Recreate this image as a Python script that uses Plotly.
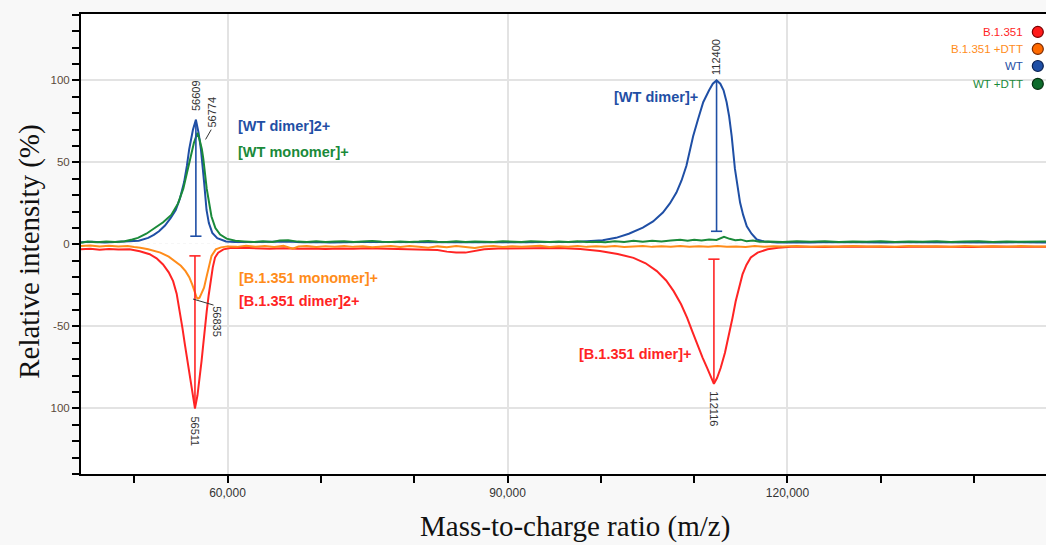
import plotly.graph_objects as go

# ---------------- data ----------------
series_names = ["B.1.351", "B.1.351 +DTT", "WT", "WT +DTT"]

b1351_points = [(44300,-3.0),(45300,-2.6),(46300,-3.3),(47300,-2.8),(48300,-3.1),(49500,-3.0),(50600,-4.2),(51660,-6.0),(52400,-8.5),(53090,-12.2),(53700,-17.0),(54170,-22.4),(54550,-30.0),(54890,-40.8),(55170,-51.0),(55430,-61.0),(55700,-71.0),(55970,-81.5),(56250,-92.0),(56511,-100.0),(56780,-92.0),(57040,-81.5),(57220,-71.0),(57400,-61.0),(57580,-50.0),(57770,-40.8),(57980,-31.0),(58200,-22.4),(58420,-14.0),(58660,-8.0),(59000,-5.0),(59560,-3.0),(60300,-2.2),(61500,-2.0),(63000,-2.3),(64500,-2.6),(66000,-2.3),(67500,-2.7),(69000,-2.5),(70500,-2.8),(72000,-2.5),(73500,-2.7),(75000,-2.4),(76500,-2.6),(78000,-2.5),(79500,-2.8),(81000,-2.9),(82500,-3.4),(83500,-4.4),(84500,-5.0),(85500,-5.0),(86500,-4.2),(87500,-3.0),(89000,-2.5),(90500,-2.4),(92000,-2.6),(93500,-2.3),(95600,-2.2),(97800,-2.8),(99900,-4.0),(101800,-5.8),(103500,-8.2),(104800,-11.5),(106000,-16.3),(107000,-22.0),(107800,-28.5),(108600,-36.5),(109250,-44.8),(109800,-53.0),(110330,-61.0),(110900,-69.0),(111400,-75.4),(111800,-81.0),(112116,-85.0),(112450,-81.5),(112840,-75.4),(113300,-66.0),(113740,-55.0),(114100,-45.0),(114450,-34.7),(114800,-26.0),(115180,-18.3),(115600,-12.5),(116070,-8.0),(116800,-5.0),(117870,-3.0),(119000,-2.0),(120380,-1.5),(122000,-1.4),(124000,-1.6),(126000,-1.3),(128000,-1.5),(130000,-1.4),(132000,-1.6),(134000,-1.3),(136000,-1.5),(138000,-1.4),(140000,-1.6),(142000,-1.3),(144000,-1.5),(146000,-1.4),(147700,-1.5)]

b1351_dtt_points = [(44300,-1.0),(45300,-0.6),(46300,-1.2),(47300,-0.8),(48300,-1.3),(49300,-1.0),(50000,-1.6),(50650,-2.0),(51500,-3.0),(52000,-3.6),(52810,-5.0),(53700,-7.5),(54360,-10.2),(55000,-13.0),(55500,-16.3),(55900,-20.0),(56225,-24.5),(56500,-29.0),(56700,-32.5),(56835,-33.0),(57000,-32.5),(57200,-30.0),(57485,-26.4),(57700,-21.0),(57915,-16.3),(58100,-11.0),(58285,-7.0),(58745,-3.0),(59300,-1.8),(60000,-1.2),(61000,-1.5),(62000,-0.8),(63000,-1.4),(64000,-1.0),(65000,-1.6),(66000,-0.9),(67000,-2.6),(67600,-1.3),(68500,-1.0),(69500,-1.6),(70500,-1.1),(71500,-1.4),(72500,-0.9),(73500,-1.5),(74500,-1.1),(75500,-1.8),(76500,-1.2),(77500,-0.9),(78500,-1.6),(79500,-1.0),(80500,-1.4),(81500,-2.0),(82500,-1.2),(83500,-1.7),(84500,-1.0),(85500,-1.5),(86500,-2.2),(87500,-1.3),(88500,-1.0),(89500,-1.6),(90500,-1.1),(91500,-1.5),(92500,-1.2),(93500,-0.8),(94500,-1.6),(95500,-1.1),(96500,-1.4),(97500,-0.9),(98500,-1.5),(99500,-1.1),(100500,-1.4),(101500,-1.0),(102500,-1.6),(103500,-1.2),(104500,-0.9),(105500,-1.5),(106500,-1.1),(107500,-1.4),(108500,-1.0),(109500,-1.5),(110500,-1.1),(111500,-1.4),(112500,-1.0),(113500,-1.5),(114500,-1.2),(115500,-1.6),(116500,-1.0),(117500,-1.4),(118500,-1.1),(119500,-1.3),(121000,-1.0),(122500,-1.4),(124000,-1.1),(125500,-1.5),(127000,-1.0),(128500,-1.3),(130000,-1.1),(131500,-1.4),(133000,-1.0),(134500,-1.3),(136000,-1.1),(137500,-1.4),(139000,-1.0),(140500,-1.3),(142000,-1.1),(143500,-1.4),(145000,-1.0),(146500,-1.3),(147700,-1.2)]

wt_points = [(44300,1.3),(45500,1.6),(46800,1.2),(48000,1.5),(49200,1.9),(50490,2.3),(51500,4.0),(52100,5.8),(52660,8.0),(53300,11.5),(53900,16.0),(54450,21.0),(54900,28.0),(55350,38.0),(55650,48.0),(55890,58.0),(56300,70.0),(56609,76.0),(56900,68.0),(57150,58.0),(57490,38.0),(57750,21.0),(58000,13.0),(58370,7.0),(58900,3.8),(59840,1.8),(60800,1.4),(62000,1.5),(63500,1.2),(65000,1.4),(66500,1.7),(68000,1.3),(69500,1.5),(71000,1.2),(72500,1.4),(74000,1.3),(75500,1.6),(77000,1.4),(78500,1.3),(80000,1.5),(81500,1.2),(83000,1.4),(84500,1.3),(86000,1.5),(87500,1.4),(89000,1.2),(90500,1.5),(92000,1.3),(93500,1.4),(95000,1.3),(96500,1.5),(97700,1.6),(98770,1.8),(100200,2.5),(101630,4.0),(103000,6.5),(104500,10.2),(105600,14.0),(106650,19.4),(107400,25.0),(108100,31.6),(108650,39.0),(109170,48.0),(109550,57.0),(109890,66.0),(110400,76.0),(110970,86.7),(111600,94.0),(112000,98.0),(112400,100.0),(112800,98.0),(113150,94.0),(113480,86.7),(113750,78.0),(114020,66.0),(114370,46.0),(114650,35.0),(114920,25.5),(115250,18.0),(115640,11.0),(116150,6.5),(116710,3.0),(117500,1.8),(118870,1.2),(120500,1.3),(122500,1.1),(124500,1.4),(126500,1.2),(128500,1.3),(130500,1.1),(132500,1.3),(134500,1.2),(136500,1.4),(138500,1.2),(140500,1.3),(142500,1.1),(144500,1.3),(146500,1.2),(147700,1.2)]

wt_dtt_points = [(44300,1.0),(45000,1.8),(46000,1.3),(47000,1.7),(48000,1.4),(48980,1.9),(49800,3.0),(50400,4.0),(51300,6.5),(52210,10.0),(53100,13.5),(53970,18.0),(54700,25.0),(55260,34.0),(55700,45.0),(55980,52.0),(56400,62.0),(56774,68.0),(57000,64.0),(57250,58.0),(57410,52.0),(57770,34.0),(58000,25.0),(58280,17.0),(58700,10.0),(59210,6.0),(59900,3.5),(60830,2.2),(61800,1.8),(62800,1.4),(63800,1.9),(64800,1.5),(65600,2.4),(66500,2.6),(67500,1.7),(68500,1.5),(69500,1.9),(70500,1.4),(71500,1.7),(72500,2.0),(73500,1.5),(74500,1.6),(75500,2.1),(76500,1.6),(77500,1.4),(78500,1.8),(79500,1.5),(80500,1.7),(81500,2.1),(82500,1.6),(83500,1.4),(84500,1.9),(85500,1.5),(86500,1.8),(87500,1.6),(88500,1.4),(89500,1.9),(90500,1.7),(91500,1.5),(92500,2.0),(93500,1.6),(94500,1.4),(95500,1.8),(96500,1.5),(97500,1.9),(98500,1.4),(99500,1.6),(100500,1.3),(101500,1.9),(102500,1.4),(103500,2.3),(104500,1.6),(105500,2.2),(106500,1.8),(107500,2.4),(108500,2.9),(109300,2.2),(110000,2.8),(110800,2.4),(111600,3.0),(112400,2.7),(113200,4.6),(113800,3.4),(114400,2.6),(115000,2.9),(115600,1.9),(116300,2.4),(117000,1.6),(118000,1.8),(119500,1.5),(121000,1.9),(122500,1.6),(124000,2.0),(125500,1.5),(127000,1.8),(128500,1.6),(130000,1.9),(131500,1.5),(133000,1.8),(134500,1.6),(136000,1.9),(137500,1.5),(139000,1.7),(140500,1.9),(142000,1.5),(143500,1.8),(145000,1.6),(146500,1.9),(147700,1.7)]

# peak markers (vertical bars from apex to base)
wt_bar_x = [56609, 112400]
wt_bar_top = [76, 100]
wt_bar_base = [5, 8]
b_bar_x = [56511, 112116]
b_bar_top = [-100, -85]
b_bar_base = [-7, -9]

# peak mass labels: (text, x, y, angle)
peak_labels = [("56609", 56609, 91, -90), ("56774", 58330, 81, -90), ("112400", 112400, 114, -90),
               ("56511", 56511, -114, 90), ("56835", 58800, -47, 90), ("112116", 112116, -100.5, 90)]

# species labels: (text, x, y, anchor, series index)
species_labels = [("[WT dimer]2+", 60900, 72, "left", 2), ("[WT monomer]+", 60900, 56.5, "left", 3),
                  ("[WT dimer]+", 110600, 90, "right", 2),
                  ("[B.1.351 monomer]+", 61000, -20.7, "left", 1), ("[B.1.351 dimer]2+", 61000, -34.7, "left", 0),
                  ("[B.1.351 dimer]+", 109850, -67, "right", 0)]

x_tick_vals = [60000, 90000, 120000]
x_tick_text = ["60,000", "90,000", "120,000"]
y_tick_vals = [100, 50, 0, -50, -100]
y_tick_text = ["100", "50", "0", "-50", "100"]

x_title = "Mass-to-charge ratio (m/z)"
y_title = "Relative intensity (%)"

# ---------------- style ----------------
line_colors = ["#ff2424", "#ff8c1a", "#1f4fa5", "#1a8a3a"]
legend_fill = ["#ff1a1a", "#ff6a00", "#1f4fa5", "#0d6b2b"]
legend_edge = ["#7a0000", "#7a2a00", "#0a2050", "#063010"]
legend_y = [0.961, 0.924, 0.887, 0.848]
CAP = 600
SANS = "Liberation Sans, Arial"
SERIF = "Liberation Serif, Times New Roman"

fig = go.Figure()
all_points = [b1351_points, b1351_dtt_points, wt_points, wt_dtt_points]
for i in [0, 1, 2, 3]:
    pts = all_points[i]
    fig.add_trace(go.Scatter(x=[p[0] for p in pts], y=[p[1] for p in pts], mode="lines",
                             line=dict(color=line_colors[i], width=2), name=series_names[i],
                             showlegend=False, hoverinfo="skip"))

def bar_trace(xs, tops, bases, color):
    bx, by = [], []
    for x, t, b in zip(xs, tops, bases):
        bx += [x, x, None, x - CAP, x + CAP, None]
        by += [t, b, None, b, b, None]
    return go.Scatter(x=bx, y=by, mode="lines", line=dict(color=color, width=1.6),
                      showlegend=False, hoverinfo="skip")

fig.add_trace(bar_trace(wt_bar_x, wt_bar_top, wt_bar_base, line_colors[2]))
fig.add_trace(bar_trace(b_bar_x, b_bar_top, b_bar_base, line_colors[0]))

# legend symbols on an overlay axis in paper-like [0,1] units
fig.add_trace(go.Scatter(x=[0.9915] * 4, y=legend_y, xaxis="x2", yaxis="y2", mode="markers",
                         marker=dict(size=11, color=legend_fill, line=dict(color=legend_edge, width=1.2)),
                         showlegend=False, hoverinfo="skip", cliponaxis=False))

annotations = []
for text, x, y, ang in peak_labels:
    annotations.append(dict(x=x, y=y, xref="x", yref="y", text=text, textangle=ang, showarrow=False,
                            font=dict(family=SANS, size=11, color="#333333")))
for text, x, y, anchor, si in species_labels:
    annotations.append(dict(x=x, y=y, xref="x", yref="y", text="<b>" + text + "</b>", xanchor=anchor,
                            yanchor="middle", showarrow=False,
                            font=dict(family=SANS, size=14.5, color=line_colors[si])))
for i in range(4):
    annotations.append(dict(x=0.978, y=legend_y[i], xref="paper", yref="paper", text=series_names[i],
                            xanchor="right", yanchor="middle", showarrow=False,
                            font=dict(family=SANS, size=11.5, color=line_colors[i])))
annotations.append(dict(x=0.512, y=0, xref="paper", yref="paper", yshift=-52, text=x_title,
                        xanchor="center", yanchor="middle", showarrow=False,
                        font=dict(family=SERIF, size=29, color="#111111")))
annotations.append(dict(x=0, y=0.483, xref="paper", yref="paper", xshift=-51, text=y_title,
                        textangle=-90, xanchor="center", yanchor="middle", showarrow=False,
                        font=dict(family=SERIF, size=29, color="#111111")))

shapes = [
    dict(type="line", xref="paper", yref="y", x0=0, x1=1, y0=0, y1=0, layer="between",
         line=dict(color="#9a9a9a", width=1, dash="dot")),
    dict(type="line", xref="x", yref="y", x0=57650, y0=64, x1=58250, y1=70,
         line=dict(color="#333333", width=1)),
    dict(type="line", xref="x", yref="y", x0=56300, y0=-33.3, x1=58500, y1=-37,
         line=dict(color="#333333", width=1)),
]

fig.update_layout(
    width=1046, height=545,
    margin=dict(l=81, r=0, t=14, b=71, autoexpand=False),
    paper_bgcolor="#f8f8f8", plot_bgcolor="#ffffff",
    showlegend=False,
    annotations=annotations, shapes=shapes,
    xaxis=dict(range=[44300, 147700], tickvals=x_tick_vals, ticktext=x_tick_text, automargin=False,
               showgrid=True, gridcolor="#e3e3e3", gridwidth=1.5, zeroline=False,
               showline=True, linecolor="black", linewidth=2, mirror=True,
               ticks="outside", ticklen=7, tickwidth=2, tickcolor="black",
               minor=dict(tick0=0, dtick=10000, ticks="outside", ticklen=7, tickwidth=2,
                          tickcolor="black", showgrid=False),
               tickfont=dict(family=SANS, size=12, color="#333333")),
    yaxis=dict(range=[-140, 140.5], tickvals=y_tick_vals, ticktext=y_tick_text, automargin=False,
               showgrid=True, gridcolor="#e3e3e3", gridwidth=1.5,
               zeroline=True, zerolinecolor="#ffffff", zerolinewidth=1,
               showline=True, linecolor="black", linewidth=2,
               ticks="outside", ticklen=7, tickwidth=2, tickcolor="black",
               minor=dict(tick0=0, dtick=10, ticks="outside", ticklen=7, tickwidth=2,
                          tickcolor="black", showgrid=False),
               tickfont=dict(family=SANS, size=11.5, color="#5a4a3a")),
    xaxis2=dict(overlaying="x", range=[0, 1], visible=False, fixedrange=True),
    yaxis2=dict(overlaying="y", range=[0, 1], visible=False, fixedrange=True),
)

fig.write_html("out.html", config={"displayModeBar": False},
               post_script="document.body.style.margin='0';document.body.style.overflow='hidden';")
